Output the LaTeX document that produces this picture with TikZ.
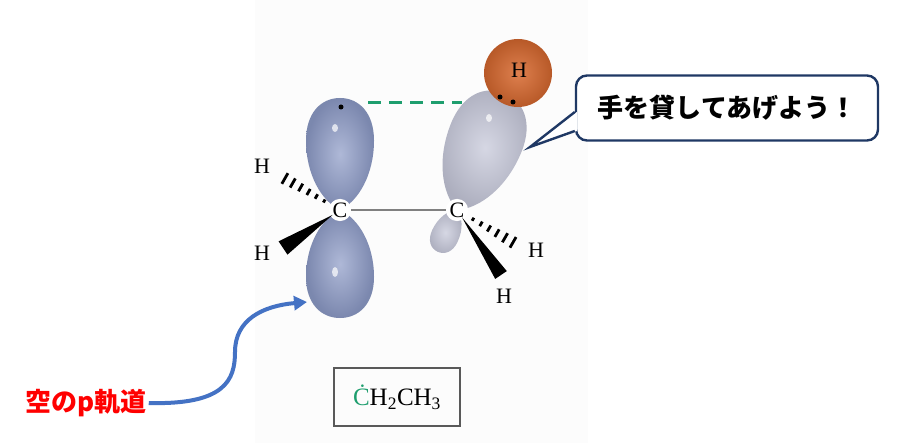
\documentclass[tikz,border=0pt]{standalone}
\usepackage{fontspec}
\setmainfont{Liberation Serif}
\newfontfamily\jpfont{Noto Sans CJK JP}
\usetikzlibrary{arrows.meta,calc}

\definecolor{lobeblue}{HTML}{8C9AC6}
\definecolor{lobegrey}{HTML}{C4C6D8}
\definecolor{hred}{HTML}{D8692F}
\definecolor{dashgreen}{HTML}{1E9E6E}
\definecolor{arrowblue}{HTML}{4472C4}
\definecolor{talkblue}{HTML}{1F3864}

% teardrop, tip at origin, length #1, half width #2
\newcommand{\lobepath}[2]{(0,0) .. controls (-0.55*#2,-0.08*#1) and (-#2,-0.32*#1) .. (-#2,-0.62*#1)
  .. controls (-#2,-0.87*#1) and (-0.55*#2,-#1) .. (0,-#1)
  .. controls (0.55*#2,-#1) and (#2,-0.87*#1) .. (#2,-0.62*#1)
  .. controls (#2,-0.32*#1) and (0.55*#2,-0.08*#1) .. cycle}

\begin{document}
\begin{tikzpicture}[x=1pt,y=-1pt]
\tikzset{atom/.style = {circle,fill=white,inner sep=0.5pt,font=\fontsize{22}{22}\selectfont}}
\tikzset{hatom/.style = {inner sep=0pt,font=\fontsize{22}{22}\selectfont}}
\tikzset{lobe/.style = {inner color=#1!70!white,outer color=#1!88!black}}
\tikzset{hash/.style = {line width=2.8pt}}
\tikzset{elec/.style = {circle,fill=black,inner sep=0pt,minimum size=5pt}}
\useasboundingbox (0,0) rectangle (901,443);
\fill[black!1] (255,0) rectangle (588,443);

% atoms
\coordinate (cLc) at (340,210);
\coordinate (cRc) at (457,210);

% orbitals
\shade[lobe=lobeblue,shift={(cLc)}] \lobepath{112}{34};
\shade[lobe=lobeblue,shift={(cLc)},rotate=180] \lobepath{108}{34};
\shade[lobe=lobegrey,shift={(cRc)},rotate=155] \lobepath{46}{14};
\shade[lobe=lobegrey,shift={(cRc)},rotate=-22] \lobepath{126}{38};
\fill[white,opacity=0.7] (335,128) ellipse (3 and 4);
\fill[white,opacity=0.7] (335,272) ellipse (3 and 5);
\fill[white,opacity=0.7] (489,118) ellipse (3 and 4);
\shade[inner color=hred!85!white,outer color=hred!85!black] (518,73) circle (34);

\node[atom] (cL) at (cLc) {C};
\node[atom] (cR) at (cRc) {C};
\node[hatom] (h1) at (262,166) {H};
\node[hatom] (h2) at (262,253) {H};
\node[hatom] (h3) at (536,250) {H};
\node[hatom] (h4) at (504,296) {H};
\node[hatom] (h5) at (519,70) {H};

\draw[black!50,line width=1.4pt] (cL) -- (cR);

% wedge ends
\coordinate (w1) at (277,174);
\coordinate (w2) at (283,248);
\coordinate (w3) at (521,247);
\coordinate (w4) at (501,275);
\foreach \t in {0.25,0.375,...,1.0}
  \draw[hash] ($(cL.center)!\t!(w1)!{\t*7pt}!90:(w1)$) -- ($(cL.center)!\t!(w1)!{\t*7pt}!-90:(w1)$);
\foreach \t in {0.25,0.375,...,1.0}
  \draw[hash] ($(cR.center)!\t!(w3)!{\t*7pt}!90:(w3)$) -- ($(cR.center)!\t!(w3)!{\t*7pt}!-90:(w3)$);
\fill ($(cL.center)!9pt!(w2)$) -- ($(w2)!8pt!90:(cL.center)$) -- ($(w2)!8pt!-90:(cL.center)$) -- cycle;
\fill ($(cR.center)!9pt!(w4)$) -- ($(w4)!7pt!90:(cR.center)$) -- ($(w4)!7pt!-90:(cR.center)$) -- cycle;

\node[elec] (e1) at (341,107) {};
\node[elec] (e2) at (500,97) {};
\node[elec] (e3) at (513,102) {};
\coordinate (d1) at (368,103);
\coordinate (d2) at (462,103);
\draw[dashgreen,line width=3pt,dash pattern=on 13pt off 8pt] (d1) -- (d2);

% speech bubble
\node[draw=talkblue,line width=2.4pt,rounded corners=11pt,fill=white,minimum width=302,minimum height=65,
  font=\jpfont\bfseries\fontsize{26}{26}\selectfont] (talk) at (727,108) {手を貸してあげよう！};
\coordinate (tip) at (530,147);
\fill[white] ($(talk.west)+(2,4)$) -- (tip) -- ($(talk.west)+(2,23)$) -- cycle;
\draw[talkblue,line width=2.4pt,line join=miter] ($(talk.west)+(0,4)$) -- (tip) -- ($(talk.west)+(0,23)$);

% empty orbital label
\node[text=red,font=\jpfont\bfseries\fontsize{26}{26}\selectfont,inner sep=2pt] (empty) at (86,403) {空のp軌道};
\coordinate (target) at (307,302);
\draw[arrowblue,line width=4pt,-{Triangle[length=13pt,width=14pt]}] (empty.east) .. controls (225,405) and (235,380) .. (235,352)
  .. controls (235,320) and (262,306) .. (target);

% formula
\node[draw=black!65,line width=2.4pt,minimum width=126,minimum height=58,font=\fontsize{25}{25}\selectfont] (formula) at (397,397)
  {\textcolor{dashgreen}{\.{C}}H\textsubscript{2}CH\textsubscript{3}};
\end{tikzpicture}
\end{document}
